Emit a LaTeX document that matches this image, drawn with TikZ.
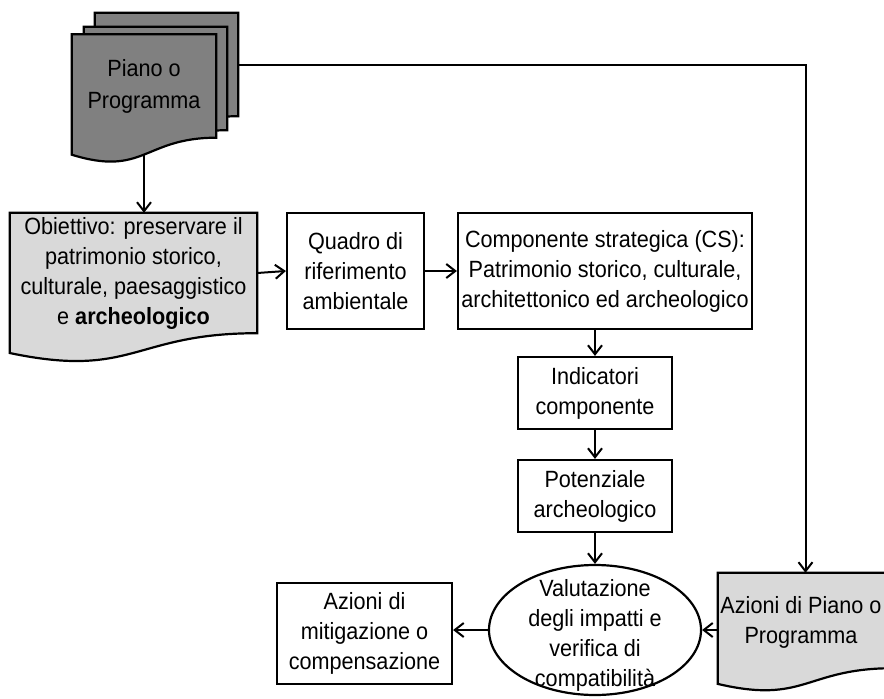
\documentclass[tikz,border=0pt]{standalone}
\usepackage{fontspec}
\setmainfont{Liberation Sans}[FakeStretch=0.92]
\usepackage{xcolor}
\usetikzlibrary{shapes,arrows.meta,positioning,calc,backgrounds}

\definecolor{docdark}{HTML}{808080}
\definecolor{doclight}{HTML}{D9D9D9}

% wavy document outline behind a node (#1 = node, #2 = fill)
\newcommand{\docshape}[2]{%
  \begin{pgfonlayer}{background}
    \draw[line width=2.2pt, fill=#2] let \p1=(#1.north west), \p2=(#1.south east) in
      (\p1) -- (\x2,\y1) -- (\p2)
      .. controls ({0.5*(\x1+\x2)},\y2) and ({0.5*(\x1+\x2)},{\y1+1.381*(\y2-\y1)}) .. (\x1,{\y1+1.1646*(\y2-\y1)}) -- cycle
      ({0.5*(\x1+\x2)},{\y1+1.1635*(\y2-\y1)}) coordinate (#1-w);
  \end{pgfonlayer}}

\begin{document}
\begin{tikzpicture}[x=1pt, y=-1pt,
    font=\fontsize{23.5}{30}\selectfont,
    box/.style={rectangle, draw, line width=2.2pt, inner sep=0pt, align=center},
    doc/.style={rectangle, inner sep=0pt, align=center},
    arr/.style={line width=2pt, -{Straight Barb[length=9pt,width=14pt]}}
  ]
  \useasboundingbox (0,0) rectangle (884,699);

  % Piano o Programma (stack of sheets)
  \node[doc, minimum width=143pt, minimum height=103pt] (piano3) at (166.5,64.5) {};
  \docshape{piano3}{docdark}
  \node[doc, minimum width=143pt, minimum height=103pt] (piano2) at (155.5,78.5) {};
  \docshape{piano2}{docdark}
  \node[doc, minimum width=144pt, minimum height=103pt] (piano) at (144,86) {Piano o\\[2pt]Programma};
  \docshape{piano}{docdark}

  % top row
  \node[doc, minimum width=247pt, minimum height=120pt] (obj) at (133.5,273)
    {Obiettivo: preservare il\\patrimonio storico,\\culturale, paesaggistico\\e \textbf{archeologico}};
  \docshape{obj}{doclight}
  \node[box, minimum width=137pt, minimum height=116pt] (quadro) at (355.5,271)
    {Quadro di\\riferimento\\ambientale};
  \node[box, minimum width=294pt, minimum height=116pt] (comp) at (605,271)
    {Componente strategica (CS):\\Patrimonio storico, culturale,\\architettonico ed archeologico};

  % middle column
  \node[box, minimum width=154pt, minimum height=72pt] (ind) at (595,393) {Indicatori\\componente};
  \node[box, minimum width=154pt, minimum height=72pt] (pot) at (595,496) {Potenziale\\archeologico};

  % bottom row
  \node[ellipse, draw, line width=2.2pt, inner sep=0pt, minimum width=212pt, minimum height=130pt] (val) at (595,630) {};
  \node[align=center, inner sep=0pt] (valtxt) at (595,635) {Valutazione\\degli impatti e\\verifica di\\compatibilità};
  \node[box, minimum width=175pt, minimum height=101pt] (mit) at (364.5,633.5)
    {Azioni di\\mitigazione o\\compensazione};
  \node[doc, minimum width=175pt, minimum height=95pt] (az) at (805.5,620.5) {};
  \docshape{az}{doclight}
  \node[align=center, inner sep=0pt] (aztxt) at (801,622) {Azioni di Piano o\\Programma};

  % connections
  \draw[arr] (piano-w) -- (piano-w |- obj.north);
  \draw[arr] (obj.east) -- (quadro.west);
  \draw[arr] (quadro.east) -- (comp.west);
  \draw[arr] (ind.north |- comp.south) -- (ind.north);
  \draw[arr] (ind) -- (pot);
  \draw[arr] (pot) -- (val);
  \draw[arr] (piano3.east) -- (piano3.east -| az.north) -- (az.north);
  \draw[arr] (az.west |- val.east) -- (val.east);
  \draw[arr] (val.west) -- (val.west -| mit.east);
\end{tikzpicture}
\end{document}
